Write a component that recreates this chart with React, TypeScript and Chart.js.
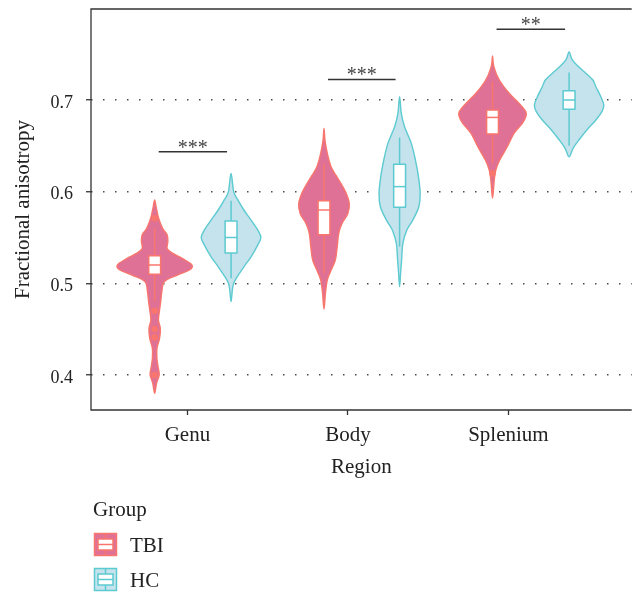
import React, { useEffect, useRef } from 'react';
import { Chart, registerables } from 'chart.js';

Chart.register(...registerables);

const FONT = '"Liberation Serif", "Times New Roman", Times, serif';

// ---------- data ----------
const regions = ['Genu', 'Body', 'Splenium'];
const regionTickX = [1, 2, 3];
const groupNames = ['TBI', 'HC'];
const tbiCenterX = [0.796, 1.851, 2.901];
const hcCenterX = [1.272, 2.322, 3.378];
const yTickValues = [0.4, 0.5, 0.6, 0.7];

// Violin outlines: FA values (top to bottom) and relative density
const genuTbiFA = [0.591, 0.582, 0.571, 0.56, 0.553, 0.5455, 0.538, 0.533, 0.527, 0.52, 0.5145, 0.509, 0.502, 0.491, 0.48, 0.471, 0.46, 0.451, 0.44, 0.429, 0.418, 0.409, 0.4, 0.391, 0.38];
const genuTbiDensity = [0, 0.045, 0.105, 0.21, 0.33, 0.35, 0.33, 0.47, 0.74, 0.99, 0.92, 0.6, 0.26, 0.19, 0.16, 0.13, 0.1, 0.15, 0.13, 0.06, 0.06, 0.09, 0.12, 0.05, 0];
const genuHcFA = [0.62, 0.6, 0.591, 0.58, 0.569, 0.558, 0.55, 0.542, 0.529, 0.518, 0.507, 0.5, 0.493, 0.48];
const genuHcDensity = [0, 0.07, 0.18, 0.34, 0.53, 0.71, 0.79, 0.71, 0.53, 0.34, 0.16, 0.07, 0.035, 0];
const bodyTbiFA = [0.669, 0.656, 0.642, 0.627, 0.613, 0.6, 0.587, 0.576, 0.5655, 0.5545, 0.54, 0.5255, 0.5145, 0.5036, 0.49, 0.472];
const bodyTbiDensity = [0, 0.026, 0.087, 0.19, 0.39, 0.57, 0.67, 0.63, 0.48, 0.39, 0.35, 0.3, 0.19, 0.087, 0.04, 0];
const bodyHcFA = [0.7036, 0.6855, 0.671, 0.6527, 0.6345, 0.6164, 0.598, 0.5836, 0.569, 0.558, 0.5436, 0.5255, 0.511, 0.4964];
const bodyHcDensity = [0, 0.045, 0.13, 0.31, 0.42, 0.5, 0.545, 0.51, 0.35, 0.19, 0.087, 0.053, 0.026, 0];
const spleniumTbiFA = [0.748, 0.7364, 0.7218, 0.7073, 0.6964, 0.6873, 0.6818, 0.6745, 0.6636, 0.649, 0.6345, 0.6236, 0.6127, 0.5927];
const spleniumTbiDensity = [0, 0.034, 0.18, 0.44, 0.7, 0.88, 0.88, 0.79, 0.57, 0.39, 0.19, 0.087, 0.045, 0];
const spleniumHcFA = [0.7527, 0.744, 0.736, 0.729, 0.7218, 0.7145, 0.7036, 0.6945, 0.6873, 0.6782, 0.6673, 0.6564, 0.6473, 0.638];
const spleniumHcDensity = [0, 0.08, 0.26, 0.45, 0.63, 0.71, 0.84, 0.92, 0.87, 0.71, 0.47, 0.26, 0.105, 0];

// Box stats: [lower whisker, Q1, median, Q3, upper whisker]
const tbiBoxStats = [
  [0.48, 0.51, 0.52, 0.53, 0.56],
  [0.511, 0.553, 0.58, 0.59, 0.63],
  [0.631, 0.663, 0.681, 0.689, 0.72],
];
const hcBoxStats = [
  [0.5055, 0.533, 0.55, 0.568, 0.59],
  [0.54, 0.583, 0.6055, 0.63, 0.659],
  [0.65, 0.69, 0.7, 0.71, 0.73],
];
const tbiOutlierFA = [[0.571, 0.47, 0.45, 0.441, 0.4], [], [0.62]];
const hcOutlierFA = [[], [], []];

const sigLabels = ['***', '***', '**'];
const sigBarFA = [0.6436, 0.7224, 0.7772];

// ---------- styles ----------
const TBI_FILL = '#DF7196';
const TBI_LINE = '#F8766D';
const HC_FILL = '#C5E3EC';
const HC_LINE = '#5CCAD0';
const AXIS = '#333333';
const TEXT = '#222222';
const VIOLIN_HALF = 0.235;
const BOX_HALF = 0.037;
const BAR_INSET = 0.025;

const groupSpecs = [
  {
    centers: tbiCenterX,
    fa: [genuTbiFA, bodyTbiFA, spleniumTbiFA],
    dens: [genuTbiDensity, bodyTbiDensity, spleniumTbiDensity],
    box: tbiBoxStats,
    fill: TBI_FILL,
    line: TBI_LINE,
  },
  {
    centers: hcCenterX,
    fa: [genuHcFA, bodyHcFA, spleniumHcFA],
    dens: [genuHcDensity, bodyHcDensity, spleniumHcDensity],
    box: hcBoxStats,
    fill: HC_FILL,
    line: HC_LINE,
  },
];

function smoothClosed(ctx: CanvasRenderingContext2D, pts: number[][]) {
  const n = pts.length;
  const t = 1 / 6;
  ctx.moveTo(pts[0][0], pts[0][1]);
  for (let i = 0; i < n; i++) {
    const p0 = pts[(i - 1 + n) % n];
    const p1 = pts[i];
    const p2 = pts[(i + 1) % n];
    const p3 = pts[(i + 2) % n];
    ctx.bezierCurveTo(
      p1[0] + (p2[0] - p0[0]) * t,
      p1[1] + (p2[1] - p0[1]) * t,
      p2[0] - (p3[0] - p1[0]) * t,
      p2[1] - (p3[1] - p1[1]) * t,
      p2[0],
      p2[1]
    );
  }
  ctx.closePath();
}

const violinPlugin = {
  id: 'violinPlugin',
  beforeDatasetsDraw(chart: any) {
    const { ctx } = chart;
    const xs = chart.scales.x;
    const ys = chart.scales.y;
    ctx.save();
    // violins
    groupSpecs.forEach((g) => {
      g.centers.forEach((c, i) => {
        const fa = g.fa[i];
        const d = g.dens[i];
        const pts: number[][] = [];
        for (let k = 0; k < fa.length; k++) {
          pts.push([xs.getPixelForValue(c + d[k] * VIOLIN_HALF), ys.getPixelForValue(fa[k])]);
        }
        for (let k = fa.length - 2; k >= 1; k--) {
          pts.push([xs.getPixelForValue(c - d[k] * VIOLIN_HALF), ys.getPixelForValue(fa[k])]);
        }
        ctx.beginPath();
        smoothClosed(ctx, pts);
        ctx.fillStyle = g.fill;
        ctx.fill();
        ctx.lineWidth = 1.4;
        ctx.lineJoin = 'round';
        ctx.strokeStyle = g.line;
        ctx.stroke();
      });
    });
    // boxes
    groupSpecs.forEach((g) => {
      g.centers.forEach((c, i) => {
        const [wl, q1, med, q3, wh] = g.box[i];
        const cx = xs.getPixelForValue(c);
        const xl = xs.getPixelForValue(c - BOX_HALF);
        const xr = xs.getPixelForValue(c + BOX_HALF);
        ctx.strokeStyle = g.line;
        ctx.lineWidth = 1.5;
        ctx.beginPath();
        ctx.moveTo(cx, ys.getPixelForValue(wl));
        ctx.lineTo(cx, ys.getPixelForValue(wh));
        ctx.stroke();
        const yt = ys.getPixelForValue(q3);
        const yb = ys.getPixelForValue(q1);
        ctx.fillStyle = '#ffffff';
        ctx.fillRect(xl, yt, xr - xl, yb - yt);
        ctx.strokeRect(xl, yt, xr - xl, yb - yt);
        const ym = ys.getPixelForValue(med);
        ctx.beginPath();
        ctx.moveTo(xl, ym);
        ctx.lineTo(xr, ym);
        ctx.stroke();
      });
    });
    // significance bars
    sigLabels.forEach((lab, i) => {
      const x1 = xs.getPixelForValue(tbiCenterX[i] + BAR_INSET);
      const x2 = xs.getPixelForValue(hcCenterX[i] - BAR_INSET);
      const y = ys.getPixelForValue(sigBarFA[i]);
      ctx.strokeStyle = AXIS;
      ctx.lineWidth = 1.5;
      ctx.beginPath();
      ctx.moveTo(x1, y);
      ctx.lineTo(x2, y);
      ctx.stroke();
      ctx.fillStyle = '#444444';
      ctx.font = `20px ${FONT}`;
      ctx.textAlign = 'center';
      ctx.textBaseline = 'alphabetic';
      ctx.fillText(lab, (x1 + x2) / 2, y + 2);
    });
    ctx.restore();
  },
  afterDraw(chart: any) {
    const { ctx, chartArea } = chart;
    ctx.save();
    // frame: left, bottom, top
    ctx.strokeStyle = AXIS;
    ctx.lineWidth = 1.3;
    ctx.beginPath();
    ctx.moveTo(chartArea.right, chartArea.top);
    ctx.lineTo(chartArea.left, chartArea.top);
    ctx.lineTo(chartArea.left, chartArea.bottom);
    ctx.lineTo(chartArea.right, chartArea.bottom);
    ctx.stroke();

    // legend
    ctx.fillStyle = TEXT;
    ctx.font = `21px ${FONT}`;
    ctx.textAlign = 'left';
    ctx.textBaseline = 'alphabetic';
    ctx.fillText('Group', 93, 516);
    const keys = [
      { y: 533.5, fill: TBI_FILL, line: TBI_LINE, label: groupNames[0], base: 552 },
      { y: 568.5, fill: HC_FILL, line: HC_LINE, label: groupNames[1], base: 587 },
    ];
    keys.forEach((k) => {
      const x = 94.5;
      ctx.fillStyle = k.fill;
      ctx.fillRect(x, k.y, 22, 22);
      ctx.strokeStyle = k.line;
      ctx.lineWidth = 1.5;
      ctx.strokeRect(x, k.y, 22, 22);
      ctx.beginPath();
      ctx.moveTo(x + 11, k.y);
      ctx.lineTo(x + 11, k.y + 5.5);
      ctx.moveTo(x + 11, k.y + 16.5);
      ctx.lineTo(x + 11, k.y + 22);
      ctx.stroke();
      ctx.fillStyle = '#ffffff';
      ctx.fillRect(x + 3.5, k.y + 5.5, 15, 11);
      ctx.strokeRect(x + 3.5, k.y + 5.5, 15, 11);
      ctx.beginPath();
      ctx.moveTo(x + 3.5, k.y + 11);
      ctx.lineTo(x + 18.5, k.y + 11);
      ctx.stroke();
      ctx.fillStyle = TEXT;
      ctx.font = `21px ${FONT}`;
      ctx.fillText(k.label, 130, k.base);
    });
    ctx.restore();
  },
};

export default function App() {
  const ref = useRef<HTMLCanvasElement | null>(null);

  useEffect(() => {
    if (!ref.current) return;
    const tbiPoints: { x: number; y: number }[] = [];
    tbiOutlierFA.forEach((arr, i) => arr.forEach((v) => tbiPoints.push({ x: tbiCenterX[i], y: v })));
    const hcPoints: { x: number; y: number }[] = [];
    hcOutlierFA.forEach((arr, i) => arr.forEach((v) => hcPoints.push({ x: hcCenterX[i], y: v })));

    const chart = new Chart(ref.current, {
      type: 'scatter',
      data: {
        datasets: [
          {
            label: groupNames[0],
            data: tbiPoints,
            pointRadius: 3.3,
            pointBackgroundColor: TBI_LINE,
            pointBorderWidth: 0,
            pointHoverRadius: 3.3,
          },
          {
            label: groupNames[1],
            data: hcPoints,
            pointRadius: 3.3,
            pointBackgroundColor: HC_LINE,
            pointBorderWidth: 0,
          },
        ],
      },
      options: {
        responsive: false,
        animation: false,
        devicePixelRatio: 1,
        layout: { padding: { top: 9, left: 0, right: 0, bottom: 112 } },
        plugins: {
          legend: { display: false },
          tooltip: { enabled: false },
        },
        scales: {
          x: {
            type: 'linear',
            min: 0.3994,
            max: 3.768,
            afterBuildTicks: (s: any) => {
              s.ticks = regionTickX.map((v) => ({ value: v }));
            },
            afterFit: (s: any) => {
              s.height = 70;
              s.paddingLeft = 0;
              s.paddingRight = 0;
              s.paddingTop = 0;
              s.paddingBottom = 0;
            },
            ticks: {
              autoSkip: false,
              maxRotation: 0,
              padding: 8,
              color: TEXT,
              font: { family: FONT, size: 21 },
              callback: (_v: any, i: number) => regions[i],
            },
            grid: {
              drawOnChartArea: false,
              drawTicks: true,
              tickLength: 5,
              tickColor: AXIS,
              tickWidth: 1.3,
            },
            border: { display: false },
            title: {
              display: true,
              text: 'Region',
              color: TEXT,
              font: { family: FONT, size: 21 },
              padding: { top: 0, bottom: 0 },
            },
          },
          y: {
            type: 'linear',
            min: 0.36182,
            max: 0.79927,
            afterBuildTicks: (s: any) => {
              s.ticks = yTickValues.map((v) => ({ value: v }));
            },
            afterFit: (s: any) => {
              s.width = 91;
              s.paddingTop = 0;
              s.paddingBottom = 0;
              s.paddingLeft = 0;
              s.paddingRight = 0;
            },
            ticks: {
              padding: 13,
              labelOffset: 3,
              color: TEXT,
              font: { family: FONT, size: 18 },
              callback: (v: any) => Number(v).toFixed(1),
            },
            grid: {
              color: '#4a4a4a',
              lineWidth: 1.5,
              drawTicks: true,
              tickLength: 5,
              tickColor: AXIS,
              tickWidth: 1.3,
              tickBorderDash: [],
            },
            border: { display: false, dash: [1.5, 10.5] },
            title: {
              display: true,
              text: 'Fractional anisotropy',
              color: TEXT,
              font: { family: FONT, size: 21 },
              padding: { top: 11, bottom: 0 },
            },
          },
        },
      } as any,
      plugins: [violinPlugin],
    });
    return () => chart.destroy();
  }, []);

  return (
    <div style={{ position: 'absolute', left: 0, top: 0, width: 635, height: 592, background: '#ffffff' }}>
      <canvas ref={ref} width={635} height={592} style={{ display: 'block', width: 635, height: 592 }} />
    </div>
  );
}
